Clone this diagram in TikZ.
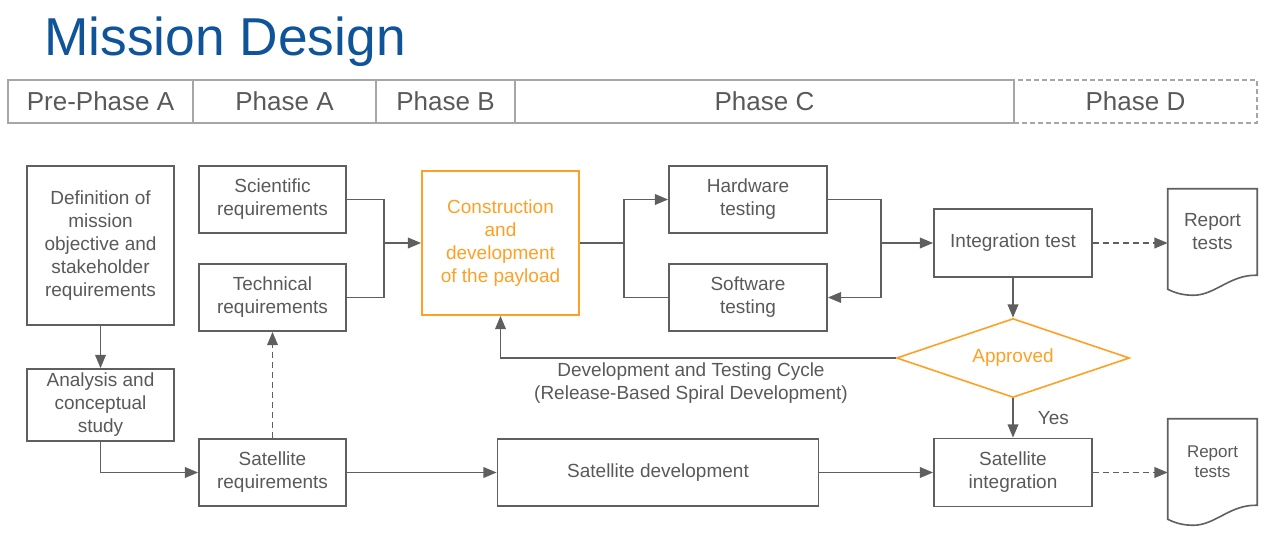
\documentclass[tikz,border=0pt]{standalone}
\usepackage{fontspec}
\setmainfont{Liberation Sans}
\usetikzlibrary{arrows.meta,shapes.geometric}
\definecolor{mdtext}{HTML}{595959}
\definecolor{mdgray}{HTML}{5F5F5F}
\definecolor{mdrule}{HTML}{A6A6A6}
\definecolor{mdorange}{HTML}{FFA024}
\definecolor{mdblue}{HTML}{0F5499}
\tikzset{
mdbox/.style={rectangle,draw=mdgray,line width=1.3pt,text=mdtext,align=center,inner sep=2pt,font=\fontsize{14.25}{17.25}\selectfont},
mdpay/.style={mdbox,draw=mdorange,text=mdorange},
mddec/.style={diamond,aspect=2.95,draw=mdorange,line width=1.2pt,text=mdorange,inner sep=0pt,minimum width=174.75pt,minimum height=59.25pt,font=\fontsize{14.25}{17.25}\selectfont},
mdphase/.style={rectangle,draw=mdrule,line width=1pt,text=mdtext,inner sep=0pt,minimum height=32.25pt,font=\fontsize{19.5}{23}\selectfont},
mdphaseopen/.style={mdphase,dash pattern=on 3.5pt off 2.5pt},
mddoc/.style={rectangle,text=mdtext,align=center,inner sep=0pt,minimum width=66.75pt,minimum height=64.5pt,font=\fontsize{14.25}{17.25}\selectfont},
mddocsmall/.style={mddoc,font=\fontsize{12.75}{15}\selectfont},
mddocline/.style={draw=mdgray,line width=1.2pt},
mdjoin/.style={draw=mdgray,line width=1.3pt},
mdarr/.style={-{Triangle[length=10pt,width=8pt]},draw=mdgray,line width=1.3pt},
mddash/.style={dash pattern=on 4.5pt off 3pt},
mdlabel/.style={text=mdtext,align=center,inner sep=0pt,font=\fontsize{14.25}{17.25}\selectfont}
}

\begin{document}
\begin{tikzpicture}[x=0.75pt,y=-0.75pt]
\useasboundingbox (0,0) rectangle (1281,539);
% title and phase bar
\node[anchor=base west,inner sep=0pt,text=mdblue,font=\fontsize{40}{46}\selectfont]
  (title) at (44,55) {Mission Design};
\node[mdphaseopen,minimum width=182.25pt] (phd) at (1135.5,101.5) {Phase D};
\node[mdphase,minimum width=138.75pt] (ph0) at (100.5,101.5) {Pre-Phase A};
\node[mdphase,minimum width=137.25pt] (pha) at (284.5,101.5) {Phase A};
\node[mdphase,minimum width=104.25pt] (phb) at (445.5,101.5) {Phase B};
\node[mdphase,minimum width=374.25pt] (phc) at (764.5,101.5) {Phase C};
% boxes
\node[mdbox,minimum width=110.25pt,minimum height=119.25pt]
  (def) at (100.5,245.5) {Definition of\\mission\\objective and\\stakeholder\\requirements};
\node[mdbox,minimum width=110.25pt,minimum height=54pt]
  (analysis) at (100.5,405) {Analysis and\\conceptual\\study};
\node[mdbox,minimum width=110.25pt,minimum height=50.25pt]
  (sci) at (272.5,199.5) {Scientific\\requirements};
\node[mdbox,minimum width=110.25pt,minimum height=50.25pt]
  (tech) at (272.5,297.5) {Technical\\requirements};
\node[mdbox,minimum width=110.25pt,minimum height=50.25pt]
  (satreq) at (272.5,472.5) {Satellite\\requirements};
\node[mdpay,minimum width=117.75pt,minimum height=108pt]
  (payload) at (500.5,243) {Construction\\and\\development\\of the payload};
\node[mdbox,minimum width=118.5pt,minimum height=50.25pt]
  (hw) at (748,199.5) {Hardware\\testing};
\node[mdbox,minimum width=118.5pt,minimum height=50.25pt]
  (sw) at (748,297.5) {Software\\testing};
\node[mdbox,minimum width=118.5pt,minimum height=51pt]
  (integ) at (1013,243) {Integration test};
\node[mddec] (approve) at (1013,358) {Approved};
\node[mdbox,minimum width=240.75pt,minimum height=50.25pt]
  (satdev) at (658,472.5) {Satellite development};
\node[mdbox,minimum width=118.5pt,minimum height=51pt]
  (satint) at (1013,472.5) {Satellite\\integration};
\node[mddoc] (rep1) at (1212.5,232) {Report\\tests};
\node[mddocsmall] (rep2) at (1212.5,462) {Report\\tests};
\draw[mddocline] (rep1.north west) -- (rep1.north east) -- (rep1.south east)
  .. controls ([shift={(-27,-1)}]rep1.south east) and ([shift={(-42,20)}]rep1.south east) .. ([shift={(-64,20)}]rep1.south east)
  .. controls ([shift={(14,20)}]rep1.south west) and ([shift={(6,17)}]rep1.south west) .. ([shift={(0,14)}]rep1.south west) -- cycle;
\draw[mddocline] (rep2.north west) -- (rep2.north east) -- (rep2.south east)
  .. controls ([shift={(-27,-1)}]rep2.south east) and ([shift={(-42,20)}]rep2.south east) .. ([shift={(-64,20)}]rep2.south east)
  .. controls ([shift={(14,20)}]rep2.south west) and ([shift={(6,17)}]rep2.south west) .. ([shift={(0,14)}]rep2.south west) -- cycle;
\node[mdlabel] (cycle) at (691,383) {Development and Testing Cycle\\(Release-Based Spiral Development)};
\coordinate (reqjoin) at (384,243);
\coordinate (testfork) at (624,243);
\coordinate (testjoin) at (881,243);
% connectors
\draw[mdarr] (def) -- (analysis);
\draw[mdarr] (analysis.south) |- (satreq.west);
\draw[mdarr,mddash] (satreq) -- (tech);
\draw[mdjoin] (sci.east) -| (reqjoin);
\draw[mdjoin] (tech.east) -| (reqjoin);
\draw[mdarr] (reqjoin) -- (payload.west);
\draw[mdjoin] (payload.east) -- (testfork);
\draw[mdarr] (testfork) |- (hw.west);
\draw[mdjoin] (testfork) |- (sw.west);
\draw[mdarr] (hw.east) -| (testjoin) |- (sw.east);
\draw[mdarr] (testjoin) -- (integ.west);
\draw[mdarr,mddash] (integ.east) -- (integ.east -| rep1.west);
\draw[mdarr] (integ) -- (approve);
\draw[mdarr] (approve.west) -| (payload.south);
\draw[mdarr] (approve) -- node[mdlabel,anchor=west,xshift=18pt]{Yes} (satint);
\draw[mdarr] (satreq) -- (satdev);
\draw[mdarr] (satdev) -- (satint);
\draw[mdarr,mddash] (satint.east) -- (satint.east -| rep2.west);
\end{tikzpicture}
\end{document}
